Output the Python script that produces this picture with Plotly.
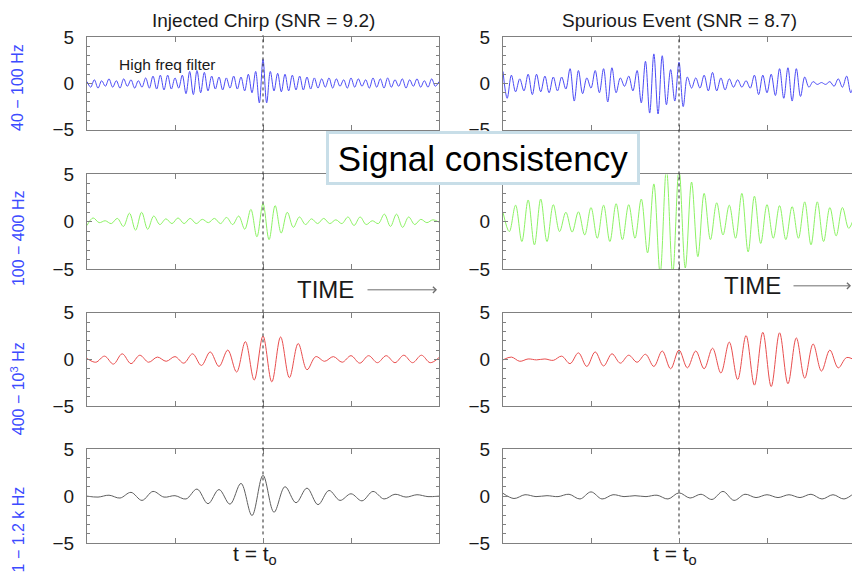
import numpy as np
import plotly.graph_objects as go

# ---------------- data: successive extrema of each band-passed trace ----------------
# Injected chirp (left column)
chirp_40_100 = [0.2,-0.4,0.4,-0.5,0.3,-0.3,0.5,-0.4,0.3,-0.5,
                0.5,-0.3,0.4,-0.5,0.3,-0.4,0.6,-0.5,0.8,-0.6,
                0.9,-0.7,0.9,-0.6,0.6,-0.5,0.9,-1.1,1.3,-1.2,
                1.4,-1.0,1.2,-0.8,0.8,-0.6,0.7,-0.7,0.6,-0.5,
                0.8,-0.6,0.7,-0.8,1.0,-1.0,1.3,-2.1,2.6,-2.1,
                1.3,-0.8,1.1,-0.9,1.0,-0.8,0.9,-0.7,0.8,-0.7,
                0.7,-0.6,0.6,-0.5,0.5,-0.4,0.6,-0.5,0.5,-0.3,
                0.4,-0.5,0.6,-0.4,0.5,-0.3,0.4,-0.5,0.6,-0.4,
                0.5,-0.5,0.6,-0.4,0.4,-0.3,0.5,-0.5,0.4,-0.3,
                0.5,-0.4,0.3,-0.4,0.5,-0.3,0.2]
chirp_100_400 = [-0.4,0.4,-0.1,0.1,-0.2,0.35,-0.5,0.9,-0.9,1.0,
                 -0.8,0.6,-0.3,0.3,-0.2,0.4,-0.2,0.35,-0.2,0.25,
                 -0.1,0.35,-0.2,0.45,-0.3,0.6,-0.8,1.3,-1.6,1.9,
                 -1.9,1.7,-1.2,1.0,-0.6,0.5,-0.3,0.3,-0.2,0.35,
                 -0.2,0.2,-0.2,0.5,-0.4,0.5,-0.3,0.1,-0.2,0.8,
                 -0.5,0.8,-0.6,0.5,-0.3,0.25,-0.1,0.2,-0.05]
chirp_400_1k = [0.1,-0.3,0.35,-0.5,0.6,-0.45,0.45,-0.3,0.25,-0.2,
                0.3,-0.4,0.6,-0.65,0.8,-0.75,1.0,-1.35,1.9,-2.2,
                2.5,-2.4,2.4,-1.95,1.7,-1.1,0.3,-0.2,0.3,-0.3,
                0.4,-0.4,0.4,-0.35,0.4,-0.35,0.45,-0.35,0.45,-0.35,0.2]
chirp_1k_12k = [0.0,-0.1,0.1,-0.2,0.4,-0.45,0.5,-0.1,0.05,-0.3,
                0.75,-0.8,0.7,-0.85,1.35,-2.05,2.2,-1.7,1.0,-0.7,
                0.85,-0.9,0.6,-0.45,0.25,-0.5,0.5,-0.3,0.2,-0.1,
                0.15,-0.05,0.0]

# Spurious event (right column)
spur_40_100 = [1.3,-1.6,0.9,-0.9,0.5,-0.8,1.0,-1.2,1.0,-0.9,
               0.8,-1.0,0.7,-0.8,0.7,-0.6,1.6,-1.9,1.4,-1.1,
               0.6,-0.5,1.4,-1.0,1.6,-2.0,1.7,-1.0,0.6,-0.3,
               0.8,-0.8,1.4,-2.1,2.4,-3.2,3.2,-3.3,3.0,-2.3,
               1.5,-1.9,2.3,-2.5,0.7,-0.5,0.6,-0.5,0.9,-0.8,
               1.2,-0.8,0.6,-0.7,0.5,-0.4,0.4,-0.4,0.3,-0.5,
               0.9,-1.2,0.9,-1.0,1.0,-1.3,1.6,-1.6,1.7,-1.9,
               1.6,-1.4,0.7,-0.4,0.2,-0.1,0.1,-0.1,0.2,-0.3,
               0.5,-0.4,0.8,-1.0,0.7]
spur_100_400 = [1.0,-1.05,1.75,-2.1,2.3,-2.45,2.4,-2.1,1.8,-1.05,
                1.0,-1.1,1.05,-1.4,1.5,-1.75,1.75,-2.1,1.9,-1.9,
                1.8,-1.75,2.4,-3.3,4.0,-5.5,5.6,-5.5,5.6,-4.9,
                4.2,-3.7,3.0,-1.9,2.0,-1.4,1.75,-1.75,3.0,-3.2,
                2.7,-2.3,1.8,-1.75,1.7,-1.9,1.6,-1.75,2.1,-2.45,
                2.1,-2.1,1.5,-1.5,1.5,-0.7,0.8]
spur_400_1k = [-0.05,0.25,-0.2,0.05,-0.05,0.05,-0.1,0.35,-0.45,0.7,
               -0.75,0.8,-0.7,0.6,-0.4,0.45,-0.3,0.55,-0.75,0.9,
               -1.0,1.0,-0.9,0.9,-1.0,1.2,-1.45,1.85,-2.15,2.55,
               -2.75,2.9,-2.9,2.85,-2.6,2.3,-2.0,1.65,-1.25,1.0,
               -0.9,0.2,-0.1]
spur_1k_12k = [0.3,-0.25,0.15,-0.05,0.05,-0.05,0.2,-0.3,0.45,-0.3,
               0.15,-0.05,0.05,-0.05,0.1,-0.3,0.35,-0.2,0.2,-0.35,
               0.5,-0.45,0.2,-0.15,0.15,-0.15,0.15,-0.15,0.2,-0.3,
               0.15,-0.3,0.4]

column_titles = ["Injected Chirp (SNR = 9.2)", "Spurious Event (SNR = 8.7)"]
band_labels = ["40 \u2212 100 Hz", "100 \u2212 400 Hz",
               "400 \u2212 10<sup>3</sup> Hz", "1 \u2212 1.2 k Hz"]
y_tick_vals = [-5, 0, 5]
x_tick_vals = [-0.5, 0, 0.5]

series = [[chirp_40_100, spur_40_100],
          [chirp_100_400, spur_100_400],
          [chirp_400_1k, spur_400_1k],
          [chirp_1k_12k, spur_1k_12k]]
row_colors = ["rgb(75,75,245)", "rgb(140,242,100)", "rgb(232,78,78)", "rgb(95,95,95)"]

# ---------------- layout helpers ----------------
W, H = 852, 576
FONT = "Liberation Sans, Arial, Helvetica, sans-serif"


def fy(p):
    """target pixel row in the photo -> paper fraction (the capture squeezes rows slightly)"""
    return 1 - ((p - 7.6) / 0.969) / H


col_px = [(87, 439), (503, 852)]
row_px = [(35, 128), (173, 268), (312, 406), (449, 544)]
full_w = 439 - 87
x_ranges = [[-1, 1], [-1, -1 + 2 * (852 - 503) / full_w]]
AX = "rgb(128,128,128)"

fig = go.Figure()
layout = dict(
    width=W, height=H, autosize=False,
    margin=dict(l=0, r=0, t=0, b=0),
    paper_bgcolor="white", plot_bgcolor="white",
    showlegend=False,
    font=dict(family=FONT, color="#1a1a1a"),
)

k = 0
for r in range(4):
    for c in range(2):
        k += 1
        vals = series[r][c]
        t = np.linspace(-1, 1, len(vals))
        fig.add_trace(go.Scatter(
            x=t, y=vals, mode="lines",
            line=dict(color=row_colors[r], width=1, shape="spline", smoothing=1.0),
            xaxis=f"x{k}", yaxis=f"y{k}", hoverinfo="skip"))
        x0, x1 = col_px[c]
        y0, y1 = row_px[r]
        layout[f"xaxis{k}"] = dict(
            domain=[x0 / W, min(1.0, x1 / W)], range=x_ranges[c],
            anchor=f"y{k}", showgrid=False, zeroline=False,
            showline=True, linecolor=AX, linewidth=1, mirror="ticks",
            ticks="inside", ticklen=5, tickcolor=AX,
            tickvals=x_tick_vals, showticklabels=False, fixedrange=True)
        layout[f"yaxis{k}"] = dict(
            domain=[fy(y1), fy(y0)], range=[-5, 5],
            anchor=f"x{k}", showgrid=False, zeroline=False,
            showline=True, linecolor=AX, linewidth=1,
            mirror="ticks" if c == 0 else False,
            ticks="inside", ticklen=5, tickcolor=AX,
            tickvals=y_tick_vals, ticklabelstandoff=8,
            tickfont=dict(size=19, color="#1a1a1a", family=FONT),
            minor=dict(dtick=1, ticks="inside", ticklen=3, tickcolor=AX),
            fixedrange=True)

annotations = []
shapes = []

# column titles
for c, title in enumerate(column_titles):
    cx = (col_px[c][0] + (439 if c == 0 else 855)) / 2
    annotations.append(dict(text=title, x=cx / W, y=fy(18), xref="paper", yref="paper",
                            showarrow=False, font=dict(size=19, family=FONT, color="#1a1a1a"),
                            xanchor="center", yanchor="middle"))

# band labels (rotated, blue)
label_cy = [86, 237, 389, 530]
for r, lab in enumerate(band_labels):
    annotations.append(dict(text=lab, x=18 / W, y=fy(label_cy[r]), xref="paper", yref="paper",
                            showarrow=False, textangle=-90,
                            font=dict(size=16, family=FONT, color="rgb(60,75,255)"),
                            xanchor="center", yanchor="middle"))

# t = t0 dotted markers
for c, xa in enumerate(["x1", "x2"]):
    shapes.append(dict(type="line", xref=xa, yref="paper", x0=0, x1=0,
                       y0=fy(535), y1=fy(33),
                       line=dict(color="rgb(40,40,40)", width=1, dash="dot")))

# "High freq filter"
annotations.append(dict(text="High freq filter", x=167 / W, y=fy(62), xref="paper", yref="paper",
                        showarrow=False, font=dict(size=15.5, family=FONT, color="#1a1a1a"),
                        xanchor="center", yanchor="middle"))

# TIME labels with arrows
for tx, ty, a0, a1 in [(325, 289, 366, 437), (752, 285, 792, 870)]:
    annotations.append(dict(text="TIME", x=tx / W, y=fy(ty), xref="paper", yref="paper",
                            showarrow=False, font=dict(size=24, family=FONT, color="#1a1a1a"),
                            xanchor="center", yanchor="middle"))
    annotations.append(dict(text="", x=a1 / W, y=fy(ty), xref="paper", yref="paper",
                            showarrow=True, ax=a0 - a1, ay=0, arrowhead=4, arrowsize=1.2,
                            arrowwidth=1, arrowcolor="rgb(110,110,110)"))

# t = t0 labels (as low as the page allows)
for tx in [255, 675]:
    annotations.append(dict(text="t = t<sub>o</sub>", x=tx / W, y=0.0, xref="paper", yref="paper",
                            showarrow=False, font=dict(size=21, family=FONT, color="#1a1a1a"),
                            xanchor="center", yanchor="bottom", yshift=-5))

# "Signal consistency" callout box
annotations.append(dict(text="Signal consistency", x=482.5 / W, y=fy(156), xref="paper", yref="paper",
                        showarrow=False, font=dict(size=35, family=FONT, color="black"),
                        xanchor="center", yanchor="middle",
                        bgcolor="white", bordercolor="rgb(200,222,232)", borderwidth=3,
                        borderpad=2, width=304, height=44))

layout["annotations"] = annotations
layout["shapes"] = shapes
fig.update_layout(**layout)
fig.write_html("out.html")
